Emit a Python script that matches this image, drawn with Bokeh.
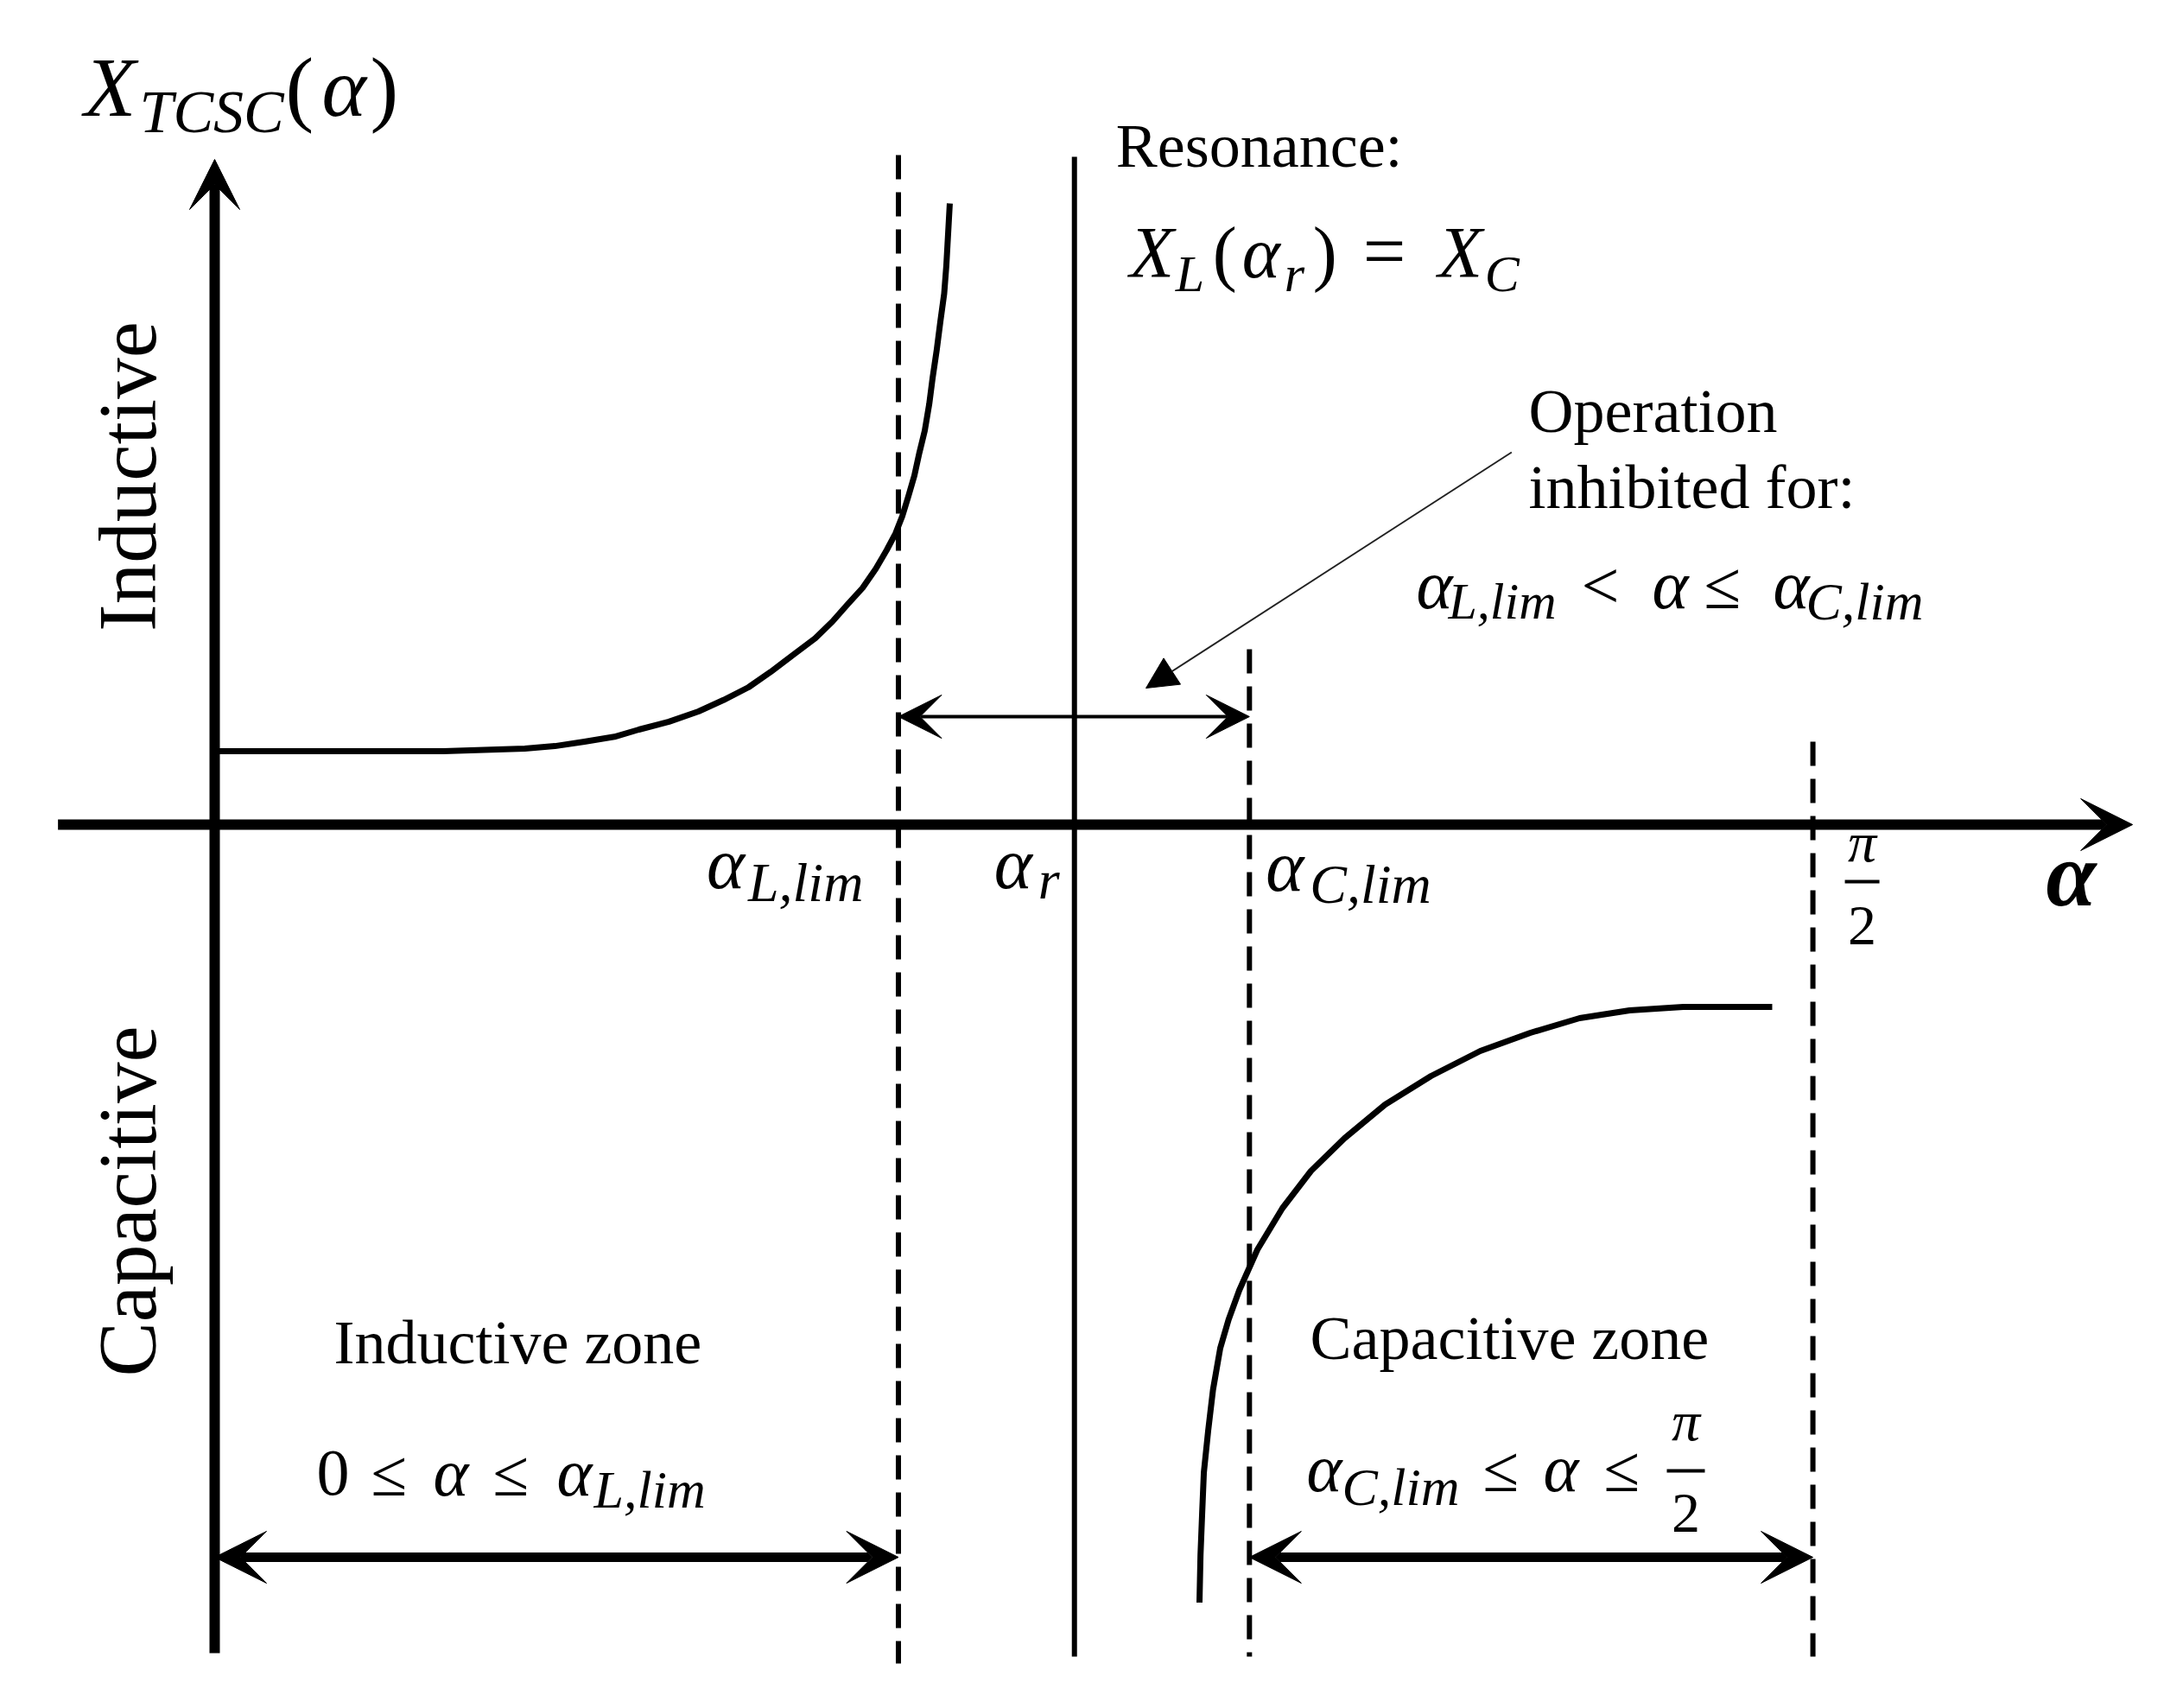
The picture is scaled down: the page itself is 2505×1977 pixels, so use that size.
import numpy as np
from bokeh.plotting import figure
from bokeh.models import Range1d, Arrow, VeeHead, NormalHead
from bokeh.core.properties import value
from bokeh.embed import file_html
from bokeh.resources import INLINE

# ---------------- data (α in rad, X_TCSC in arbitrary reactance units) ----------------
alpha_marks = [0.672, 0.845, 1.017, np.pi / 2]          # αL,lim, αr, αC,lim, π/2
mark_top = [7.75, 7.73, 2.03, 0.96]
mark_bottom = [-9.71, -9.63, -9.63, -9.63]
mark_dashed = [True, False, True, True]

ind_alpha = [0.0, 0.225, 0.3048, 0.3344, 0.3634, 0.3929, 0.4169, 0.4465, 0.4755, 0.5001,
             0.5247, 0.5465, 0.5680, 0.5903, 0.6071, 0.6219, 0.6368, 0.6497, 0.6606,
             0.6692, 0.6758, 0.6819, 0.6877, 0.6926, 0.6979, 0.7023, 0.7056, 0.7097,
             0.7132, 0.7170, 0.7191, 0.7225]
ind_X = [0.85, 0.85, 0.88, 0.909, 0.96, 1.017, 1.10, 1.191, 1.31, 1.442,
         1.59, 1.768, 1.96, 2.158, 2.35, 2.548, 2.74, 2.960, 3.18,
         3.372, 3.57, 3.806, 4.04, 4.304, 4.56, 4.868, 5.17, 5.497,
         5.82, 6.147, 6.47, 7.19]

cap_alpha = [0.9679, 0.9689, 0.9705, 0.9722, 0.9764, 0.9812, 0.9883, 0.9965, 1.0070,
             1.0248, 1.0494, 1.0774, 1.1105, 1.1504, 1.1955, 1.2439, 1.2931, 1.3415,
             1.3907, 1.4434, 1.5308]
cap_X = [-9.005, -8.455, -7.98, -7.499, -7.02, -6.542, -6.06, -5.73, -5.39,
         -4.92, -4.44, -4.01, -3.63, -3.24, -2.91, -2.62, -2.41, -2.24,
         -2.15, -2.11, -2.11]

x_axis_span = [-0.154, 1.885]
y_axis_span = [-9.59, 7.70]
inhibit_arrow_X = 1.25
zone_arrow_X = -8.48
pointer_start = [1.2747, 4.31]
pointer_end = [0.9153, 1.58]

# ---------------- layout (page pixels <-> data) ----------------
W, H = 2489, 1961
OX, OY = 248.0, 954.0      # page position of the origin
SX, SY = 1177.8, 100.0     # pixels per unit


def ax(px):
    return (px - OX) / SX


def ay(py):
    return (OY - py) / SY


def px_of(a):
    return OX + a * SX


SERIF = "Liberation Serif"

p = figure(width=W, height=H,
           x_range=Range1d(ax(0), ax(W)), y_range=Range1d(ay(H), ay(0)),
           output_backend="svg", toolbar_location=None,
           x_axis_location=None, y_axis_location=None, min_border=0,
           background_fill_color="white", border_fill_color="white",
           outline_line_color=None)
p.xgrid.visible = False
p.ygrid.visible = False


def vee(size):
    return VeeHead(size=size, fill_color="black", line_color="black", line_width=1)


# axes
p.add_layout(Arrow(end=vee(60), x_start=x_axis_span[0], y_start=0, x_end=x_axis_span[1], y_end=0,
                   line_width=12, line_color="black"))
p.add_layout(Arrow(end=vee(58), x_start=0, y_start=y_axis_span[0], x_end=0, y_end=y_axis_span[1],
                   line_width=12, line_color="black"))

# vertical marker lines
for a, t, b, d in zip(alpha_marks, mark_top, mark_bottom, mark_dashed):
    p.segment(x0=[a], y0=[t], x1=[a], y1=[b], line_color="black", line_width=6,
              line_dash="28 15" if d else "solid")

# curves
p.line(ind_alpha, ind_X, line_color="black", line_width=7, line_join="round")
p.line(cap_alpha, cap_X, line_color="black", line_width=7, line_join="round")

# inhibited-range double arrow
p.add_layout(Arrow(start=vee(50), end=vee(50), x_start=alpha_marks[0], y_start=inhibit_arrow_X,
                   x_end=alpha_marks[2], y_end=inhibit_arrow_X, line_width=4, line_color="black"))
# pointer
p.add_layout(Arrow(end=NormalHead(size=36, fill_color="black", line_color="black"),
                   x_start=pointer_start[0], y_start=pointer_start[1],
                   x_end=pointer_end[0], y_end=pointer_end[1], line_width=2, line_color="#222222"))
# zone arrows
p.add_layout(Arrow(start=vee(60), end=vee(60), x_start=0.0, y_start=zone_arrow_X,
                   x_end=alpha_marks[0], y_end=zone_arrow_X, line_width=11, line_color="black"))
p.add_layout(Arrow(start=vee(60), end=vee(60), x_start=alpha_marks[2], y_start=zone_arrow_X,
                   x_end=alpha_marks[3], y_end=zone_arrow_X, line_width=11, line_color="black"))

MID = 0.3375   # em distance from alphabetic baseline to the em-box middle (Liberation Serif)


def seg(px, py, txt, size, style="normal", align="left", angle=0.0, centered=False):
    y_mid = py if centered else py - MID * size
    p.text(x=[ax(px)], y=[ay(y_mid)], text=[txt], text_font=value(SERIF),
           text_font_size=f"{size}px", text_font_style=style, text_align=align,
           text_baseline="middle", angle=angle, text_color="black")


def frac(cx, py_pi, py_bar, py_two, size_pi, size_two, half):
    seg(cx, py_pi, "π", size_pi, "italic", "center")
    p.segment(x0=[ax(cx - half)], y0=[ay(py_bar)], x1=[ax(cx + half)], y1=[ay(py_bar)],
              line_color="black", line_width=4)
    seg(cx, py_two, "2", size_two, "normal", "center")


# y-axis title X_TCSC(α)
seg(97, 134, "X", 98, "italic")
seg(161, 153, "TCSC", 70, "italic")
seg(330, 134, "(", 98)
seg(372, 134, "α", 98, "italic")
seg(428, 134, ")", 98)

# resonance
rx = px_of(alpha_marks[1])
seg(rx + 48, 193, "Resonance:", 72)
seg(rx + 64, 320, "X", 84, "italic")
seg(rx + 117, 337, "L", 60, "italic")
seg(rx + 160, 320, "(", 84)
seg(rx + 194, 320, "α", 84, "italic")
seg(rx + 243, 337, "r", 60, "italic")
seg(rx + 276, 320, ")", 84)
seg(rx + 334, 320, "=", 88)
seg(rx + 421, 320, "X", 84, "italic")
seg(rx + 475, 337, "C", 60, "italic")

# operation inhibited
seg(1769, 500, "Operation", 72)
seg(1769, 588, "inhibited for:", 72)
seg(1639, 703, "α", 80, "italic")
seg(1676, 716, "L,lim", 60, "italic")
seg(1830, 703, "<", 78)
seg(1912, 703, "α", 80, "italic")
seg(1972, 703, "≤", 78)
seg(2052, 703, "α", 80, "italic")
seg(2090, 716, "C,lim", 62, "italic")

# tick labels
lx = px_of(alpha_marks[0])
seg(lx - 222, 1027, "α", 84, "italic")
seg(lx - 174, 1043, "L,lim", 64, "italic")
seg(rx - 93, 1027, "α", 84, "italic")
seg(rx - 42, 1040, "r", 64, "italic")
cx_ = px_of(alpha_marks[2])
seg(cx_ + 19, 1030, "α", 84, "italic")
seg(cx_ + 70, 1045, "C,lim", 64, "italic")
hx = px_of(alpha_marks[3])
frac(hx + 57, 996, 1020, 1093, 66, 66, 20)
seg(2368, 1047, "α", 105, "bold italic")

# side labels
seg(147, 551, "Inductive", 95, angle=np.pi / 2, align="center", centered=True)
seg(147, 1390, "Capacitive", 95, angle=np.pi / 2, align="center", centered=True)

# zone labels
seg(386, 1578, "Inductive zone", 72)
seg(366, 1730, "0", 76)
seg(429, 1730, "≤", 76)
seg(501, 1730, "α", 78, "italic")
seg(570, 1730, "≤", 76)
seg(644, 1730, "α", 78, "italic")
seg(687, 1744, "L,lim", 62, "italic")

seg(1516, 1573, "Capacitive zone", 72)
seg(1512, 1725, "α", 78, "italic")
seg(1553, 1741, "C,lim", 62, "italic")
seg(1716, 1725, "≤", 76)
seg(1786, 1725, "α", 78, "italic")
seg(1856, 1725, "≤", 76)
frac(1951, 1666, 1702, 1773, 66, 66, 22)

open("out.html", "w").write(file_html(p, INLINE))
